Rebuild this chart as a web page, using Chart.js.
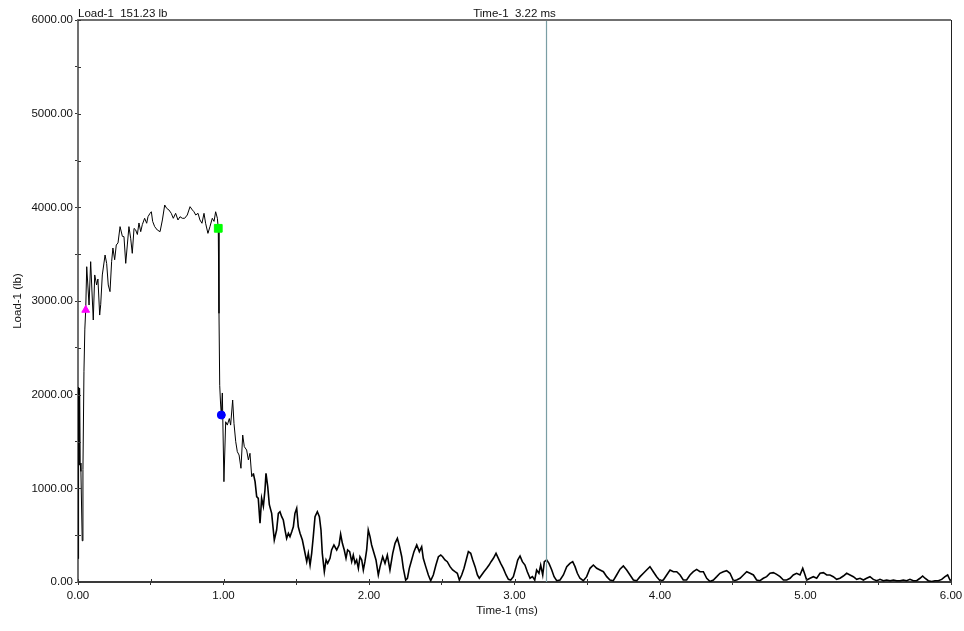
<!DOCTYPE html>
<html>
<head>
<meta charset="utf-8">
<script src="https://cdn.jsdelivr.net/npm/chart.js@4.4.0/dist/chart.umd.min.js"></script>
<style>
  body { margin: 0; background: #fff; }
  canvas { display: block; }
</style>
</head>
<body>
<canvas id="loadChart" width="964" height="631"></canvas>
<script>
// Load-1 signal (time in ms, load in lb)
const timeMs = [
  0.000, 0.004, 0.008, 0.011, 0.015, 0.020, 0.029, 0.034, 0.041, 0.047, 0.053,
  0.060, 0.076, 0.087, 0.098, 0.105, 0.115, 0.128, 0.137, 0.149, 0.156, 0.167,
  0.186, 0.197, 0.208, 0.220, 0.231, 0.240, 0.252, 0.263, 0.275, 0.289, 0.305,
  0.316, 0.328, 0.339, 0.350, 0.362, 0.373, 0.385, 0.396, 0.408, 0.419, 0.431,
  0.442, 0.458, 0.472, 0.481, 0.495, 0.504, 0.513, 0.527, 0.545, 0.564, 0.580,
  0.596, 0.609, 0.625, 0.641, 0.655, 0.671, 0.687, 0.701, 0.717, 0.733, 0.751,
  0.770, 0.786, 0.797, 0.809, 0.825, 0.838, 0.852, 0.866, 0.877, 0.893, 0.907,
  0.923, 0.935, 0.946, 0.958, 0.964, 0.969, 0.974, 0.980, 0.985, 0.992, 1.003,
  1.015, 1.026, 1.040, 1.049, 1.063, 1.072, 1.084, 1.095, 1.107, 1.120, 1.132,
  1.143, 1.159, 1.171, 1.182, 1.194, 1.205, 1.217, 1.228, 1.239, 1.251, 1.262,
  1.274, 1.285, 1.292, 1.304, 1.315, 1.331, 1.349, 1.365, 1.377, 1.388, 1.400,
  1.411, 1.423, 1.434, 1.446, 1.457, 1.469, 1.480, 1.491, 1.503, 1.514, 1.526,
  1.542, 1.556, 1.572, 1.583, 1.595, 1.606, 1.617, 1.629, 1.645, 1.659, 1.670,
  1.679, 1.693, 1.705, 1.716, 1.732, 1.743, 1.759, 1.778, 1.794, 1.805, 1.817,
  1.830, 1.842, 1.853, 1.867, 1.881, 1.892, 1.904, 1.915, 1.927, 1.938, 1.950,
  1.961, 1.972, 1.984, 1.995, 2.007, 2.018, 2.048, 2.064, 2.076, 2.094, 2.110,
  2.126, 2.144, 2.163, 2.179, 2.195, 2.209, 2.225, 2.236, 2.252, 2.264, 2.277,
  2.293, 2.309, 2.328, 2.346, 2.362, 2.373, 2.390, 2.408, 2.424, 2.442, 2.460,
  2.477, 2.493, 2.506, 2.522, 2.538, 2.557, 2.575, 2.591, 2.607, 2.621, 2.637,
  2.653, 2.671, 2.683, 2.699, 2.713, 2.729, 2.745, 2.758, 2.774, 2.790, 2.809,
  2.825, 2.839, 2.855, 2.873, 2.889, 2.905, 2.923, 2.942, 2.958, 2.974, 2.992,
  3.008, 3.022, 3.038, 3.054, 3.072, 3.088, 3.107, 3.123, 3.139, 3.152, 3.168,
  3.180, 3.194, 3.205, 3.221, 3.237, 3.256, 3.272, 3.290, 3.313, 3.336, 3.359,
  3.381, 3.400, 3.416, 3.432, 3.450, 3.473, 3.496, 3.519, 3.542, 3.565, 3.588,
  3.611, 3.634, 3.656, 3.679, 3.702, 3.725, 3.748, 3.771, 3.794, 3.817, 3.840,
  3.863, 3.886, 3.908, 3.931, 3.954, 3.977, 4.000, 4.023, 4.046, 4.069, 4.092,
  4.115, 4.138, 4.160, 4.183, 4.206, 4.229, 4.252, 4.275, 4.298, 4.321, 4.344,
  4.367, 4.390, 4.412, 4.435, 4.458, 4.481, 4.504, 4.527, 4.550, 4.573, 4.596,
  4.619, 4.642, 4.664, 4.687, 4.710, 4.733, 4.756, 4.779, 4.802, 4.825, 4.848,
  4.871, 4.894, 4.916, 4.939, 4.962, 4.981, 4.997, 5.008, 5.031, 5.054, 5.077,
  5.100, 5.123, 5.146, 5.168, 5.191, 5.214, 5.237, 5.260, 5.283, 5.306, 5.329,
  5.352, 5.375, 5.398, 5.420, 5.443, 5.466, 5.489, 5.512, 5.535, 5.558, 5.581,
  5.604, 5.627, 5.650, 5.672, 5.695, 5.718, 5.741, 5.764, 5.787, 5.805, 5.821,
  5.844, 5.867, 5.890, 5.913, 5.936, 5.959, 5.977, 5.993, 6.000
];
const loadLb = [
  250, 2080, 1250, 2070, 1270, 1180, 440, 1200, 2250, 2700, 2904,
  3366, 2957, 3420, 3032, 2797, 3278, 3171, 3235, 2850, 2960, 3278,
  3491, 3400, 3171, 3100, 3420, 3566, 3440, 3598, 3620, 3794, 3690,
  3687, 3402, 3598, 3794, 3670, 3509, 3775, 3760, 3710, 3833, 3740,
  3815, 3883, 3830, 3900, 3936, 3953, 3850, 3794, 3758, 3740, 3865,
  4025, 3990, 3972, 3936, 3883, 3936, 3865, 3900, 3883, 3883, 3918,
  4007, 3972, 3953, 3918, 3936, 3865, 3830, 3936, 3830, 3722, 3794,
  3883, 3850, 3953, 3883, 3776, 2868, 2100, 1900, 1783, 2018, 1071,
  1711, 1675, 1745, 1675, 1943, 1694, 1498, 1391, 1356, 1214, 1569,
  1445, 1409, 1303, 1374, 1124, 1160, 1071, 911, 893, 627, 893,
  807, 982, 1160, 1018, 825, 733, 448, 555, 733, 750, 697,
  662, 555, 466, 520, 484, 537, 590, 733, 787, 590, 520,
  448, 342, 217, 306, 181, 306, 484, 697, 750, 697, 555,
  306, 110, 235, 199, 253, 342, 395, 342, 395, 512, 413,
  342, 253, 342, 324, 217, 288, 199, 235, 146, 270, 235,
  128, 217, 342, 555, 484, 395, 235, 75, 164, 270, 199,
  288, 128, 306, 413, 466, 384, 270, 146, 21, 40, 146,
  235, 324, 395, 324, 377, 253, 164, 75, 14, 75, 181,
  270, 288, 270, 235, 217, 164, 128, 110, 93, 21, 75,
  146, 253, 324, 306, 235, 164, 75, 40, 75, 110, 146,
  181, 217, 253, 306, 253, 199, 146, 75, 28, 21, 57,
  146, 235, 278, 217, 181, 110, 40, 57, 21, 128, 93,
  181, 75, 217, 235, 199, 128, 57, 14, 21, 75, 164,
  199, 217, 164, 93, 40, 14, 57, 146, 181, 146, 128,
  110, 57, 21, 14, 75, 137, 171, 128, 75, 21, 14,
  57, 93, 128, 164, 110, 57, 14, 21, 75, 128, 110,
  110, 75, 21, 21, 75, 110, 135, 110, 110, 40, 5,
  21, 57, 93, 110, 121, 93, 14, 21, 40, 75, 110,
  93, 75, 21, 14, 40, 57, 93, 100, 82, 57, 21,
  21, 40, 75, 93, 75, 146, 75, 21, 40, 57, 40,
  93, 100, 75, 75, 57, 28, 40, 64, 93, 75, 57,
  28, 40, 21, 40, 57, 28, 14, 28, 14, 21, 14,
  21, 14, 14, 21, 14, 28, 14, 14, 40, 64, 40,
  14, 5, 14, 14, 28, 57, 75, 21, 20
];

// event markers: start, peak end, post-break
const markerTimes = [0.053, 0.964, 0.985];
const markerLoads = [2904, 3776, 1783];
const markerColors = ['#ff00ff', '#00ff00', '#0000ff'];
const markerShapes = ['triangle', 'rect', 'circle'];
const markerSizes = [4.5, 5.5, 4];

// cursor readout
const cursorTime = 3.22;
const cursorLoad = 151.23;

const FONT_FAMILY = '"Liberation Sans", Arial, sans-serif';
const FONT_SIZE = 11.5;

const tracePoints = timeMs.map((t, i) => ({ x: t, y: loadLb[i] }));

const markerSets = markerTimes.map((t, i) => ({
  data: [{ x: t, y: markerLoads[i] }],
  showLine: false,
  pointStyle: markerShapes[i],
  pointRadius: markerSizes[i],
  pointBackgroundColor: markerColors[i],
  pointBorderColor: markerColors[i],
  pointBorderWidth: 1,
  order: 0
}));

// extra decorations: header readouts, axis titles, inner tick stubs, frame
const decorations = {
  id: 'decorations',
  afterDraw(chart) {
    const ctx = chart.ctx;
    const area = chart.chartArea;
    const xs = chart.scales.x;
    const ys = chart.scales.y;
    ctx.save();

    // frame: top and right
    ctx.strokeStyle = '#707070';
    ctx.lineWidth = 2;
    ctx.beginPath();
    ctx.moveTo(area.left, area.top);
    ctx.lineTo(area.right, area.top);
    ctx.stroke();
    ctx.strokeStyle = '#222';
    ctx.lineWidth = 1;
    ctx.beginPath();
    ctx.moveTo(area.right + 0.5, area.top);
    ctx.lineTo(area.right + 0.5, area.bottom);
    ctx.stroke();

    // inner halves of the tick marks
    ctx.strokeStyle = '#333';
    ctx.lineWidth = 1;
    ys.ticks.forEach((tk) => {
      const y = Math.round(ys.getPixelForValue(tk.value)) + 0.5;
      ctx.beginPath();
      ctx.moveTo(area.left, y);
      ctx.lineTo(area.left + 3, y);
      ctx.stroke();
    });
    xs.ticks.forEach((tk) => {
      const x = Math.round(xs.getPixelForValue(tk.value)) + 0.5;
      ctx.beginPath();
      ctx.moveTo(x, area.bottom);
      ctx.lineTo(x, area.bottom - 3);
      ctx.stroke();
    });

    ctx.fillStyle = '#111';
    ctx.font = FONT_SIZE + 'px ' + FONT_FAMILY;
    ctx.textBaseline = 'alphabetic';
    ctx.textAlign = 'left';
    ctx.fillText('Load-1  ' + cursorLoad.toFixed(2) + ' lb', area.left, 17);
    ctx.textAlign = 'center';
    ctx.fillText('Time-1  ' + cursorTime.toFixed(2) + ' ms', (area.left + area.right) / 2, 17);

    ctx.fillText('Time-1 (ms)', 507, 614);

    ctx.translate(18, (area.top + area.bottom) / 2);
    ctx.rotate(-Math.PI / 2);
    ctx.textBaseline = 'middle';
    ctx.fillText('Load-1 (lb)', 0, 0);
    ctx.restore();
  }
};

const ctx = document.getElementById('loadChart').getContext('2d');
const chart = new Chart(ctx, {
  type: 'scatter',
  data: {
    datasets: [
      ...markerSets,
      {
        data: [{ x: cursorTime, y: 0 }, { x: cursorTime, y: 6000 }],
        showLine: true,
        borderColor: '#7a9ea4',
        borderWidth: 1.2,
        pointRadius: 0,
        order: 1
      },
      {
        data: tracePoints,
        showLine: true,
        borderColor: '#000',
        borderWidth: 1,
        pointRadius: 0,
        tension: 0,
        segment: {
          borderWidth: (c) => (c.p0.parsed.x > 1.2 ? 1.6 : 1)
        },
        order: 2
      }
    ]
  },
  options: {
    responsive: false,
    animation: false,
    layout: { padding: { top: 20, right: 13, left: 0, bottom: 0 } },
    plugins: {
      legend: { display: false },
      tooltip: { enabled: false }
    },
    scales: {
      x: {
        type: 'linear',
        min: 0,
        max: 6,
        afterFit: (scale) => {
          scale.height = 49;
          scale.paddingLeft = 0;
          scale.paddingRight = 0;
        },
        border: { color: '#3a3a3a', width: 2 },
        grid: { drawOnChartArea: false, tickLength: 3, color: '#333' },
        ticks: {
          stepSize: 0.5,
          autoSkip: false,
          maxRotation: 0,
          padding: 4,
          color: '#111',
          font: { family: FONT_FAMILY, size: FONT_SIZE },
          callback: (v) => (Number.isInteger(v) ? v.toFixed(2) : '')
        }
      },
      y: {
        type: 'linear',
        min: 0,
        max: 6000,
        afterFit: (scale) => {
          scale.width = 78;
          scale.paddingTop = 0;
          scale.paddingBottom = 0;
        },
        border: { color: '#707070', width: 2 },
        grid: { drawOnChartArea: false, tickLength: 3, color: '#333' },
        ticks: {
          stepSize: 500,
          autoSkip: false,
          padding: 2,
          color: '#111',
          font: { family: FONT_FAMILY, size: FONT_SIZE },
          callback: (v) => (v % 1000 === 0 ? v.toFixed(2) : '')
        }
      }
    }
  },
  plugins: [decorations]
});
</script>
</body>
</html>
